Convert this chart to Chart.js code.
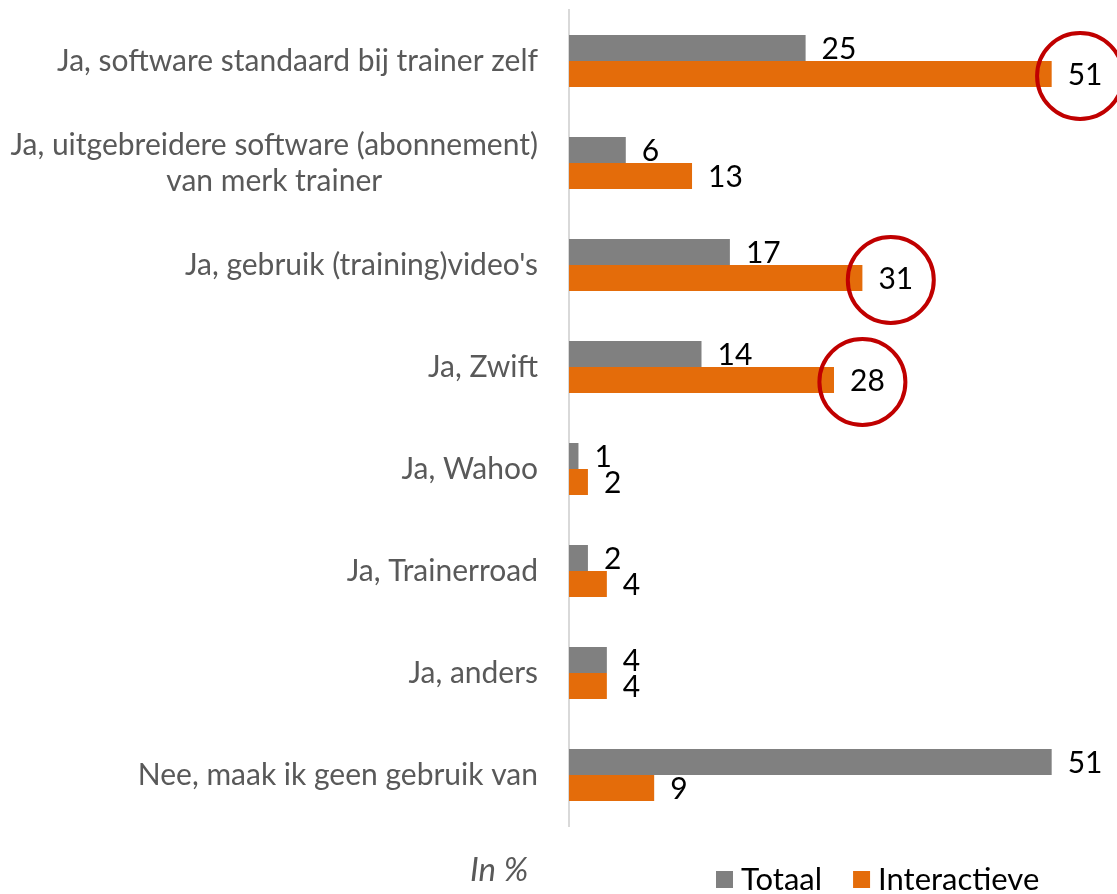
<!DOCTYPE html>
<html>
<head>
<meta charset="utf-8">
<script src="https://cdn.jsdelivr.net/npm/chart.js@4/dist/chart.umd.min.js"></script>
<style>
  body { margin: 0; background: #fff; }
</style>
</head>
<body>
<canvas id="softwareChart" width="1117" height="894"></canvas>
<script>
const categories = [
  ["Ja, software standaard bij trainer zelf"],
  ["Ja, uitgebreidere software (abonnement)", "van merk trainer"],
  ["Ja, gebruik (training)video's"],
  ["Ja, Zwift"],
  ["Ja, Wahoo"],
  ["Ja, Trainerroad"],
  ["Ja, anders"],
  ["Nee, maak ik geen gebruik van"]
]
const totaal = [25, 6, 17, 14, 1, 2, 4, 51]
const interactieve = [51, 13, 31, 28, 2, 4, 4, 9]
// Interactieve values that get a red ring
const highlighted = [0, 2, 3]

const FONT = "Lato"
const GREY = "#808080"
const ORANGE = "#E46C0A"

// category labels: right-aligned block, lines centred within it
const categoryLabels = {
  id: "categoryLabels",
  afterDraw(chart) {
    const ctx = chart.ctx
    const y = chart.scales.y
    const right = chart.chartArea.left - 31
    ctx.save()
    ctx.font = `30px ${FONT}`
    ctx.fillStyle = "#595959"
    ctx.textAlign = "center"
    ctx.textBaseline = "middle"
    const lineHeight = 36
    categories.forEach((lines, i) => {
      const cy = y.getPixelForTick(i)
      const w = Math.max(...lines.map(l => ctx.measureText(l).width))
      const cx = right - w / 2
      lines.forEach((line, j) => {
        ctx.fillText(line, cx, cy + (j - (lines.length - 1) / 2) * lineHeight)
      })
    })
    ctx.restore()
  }
}

// value labels at the end of each bar, plus rings and legend
const valueLabels = {
  id: "valueLabels",
  afterDatasetsDraw(chart) {
    const ctx = chart.ctx
    ctx.save()
    ctx.font = `30px ${FONT}`
    ctx.fillStyle = "#000"
    ctx.textBaseline = "middle"
    ctx.textAlign = "left"
    chart.data.datasets.forEach((ds, di) => {
      chart.getDatasetMeta(di).data.forEach((bar, i) => {
        const text = String(ds.data[i])
        const x = bar.x + 16
        ctx.fillText(text, x, bar.y + 1)
        if (di === 1 && highlighted.includes(i)) {
          const w = ctx.measureText(text).width
          ctx.beginPath()
          ctx.strokeStyle = "#C00000"
          ctx.lineWidth = 4
          ctx.arc(x + w / 2 - 5, bar.y + 2, 43, 0, Math.PI * 2)
          ctx.stroke()
        }
      })
    })

    // unit note
    ctx.font = `italic 33px ${FONT}`
    ctx.fillStyle = "#595959"
    ctx.fillText("In %", 470, 870)

    // legend
    ctx.font = `31px ${FONT}`
    let lx = 716
    chart.data.datasets.forEach(ds => {
      ctx.fillStyle = ds.backgroundColor
      ctx.fillRect(lx, 871, 17, 17)
      ctx.fillStyle = "#000"
      ctx.fillText(ds.label, lx + 25, 880)
      lx += 25 + ctx.measureText(ds.label).width + 31
    })
    ctx.restore()
  }
}

new Chart(document.getElementById("softwareChart"), {
  type: "bar",
  data: {
    labels: categories,
    datasets: [
      { label: "Totaal", data: totaal, backgroundColor: GREY },
      { label: "Interactieve", data: interactieve, backgroundColor: ORANGE }
    ]
  },
  options: {
    indexAxis: "y",
    responsive: false,
    animation: false,
    categoryPercentage: 0.51,
    barPercentage: 1.0,
    layout: { padding: { top: 10, right: 18, bottom: 68, left: 0 } },
    plugins: {
      legend: { display: false },
      tooltip: { enabled: false }
    },
    scales: {
      x: {
        display: false,
        min: 0,
        max: 56
      },
      y: {
        grid: { display: false },
        border: { display: true, color: "#d9d9d9", width: 2 },
        ticks: { display: false },
        afterFit: (scale) => { scale.width = 569 }
      }
    }
  },
  plugins: [categoryLabels, valueLabels]
})
</script>
</body>
</html>
